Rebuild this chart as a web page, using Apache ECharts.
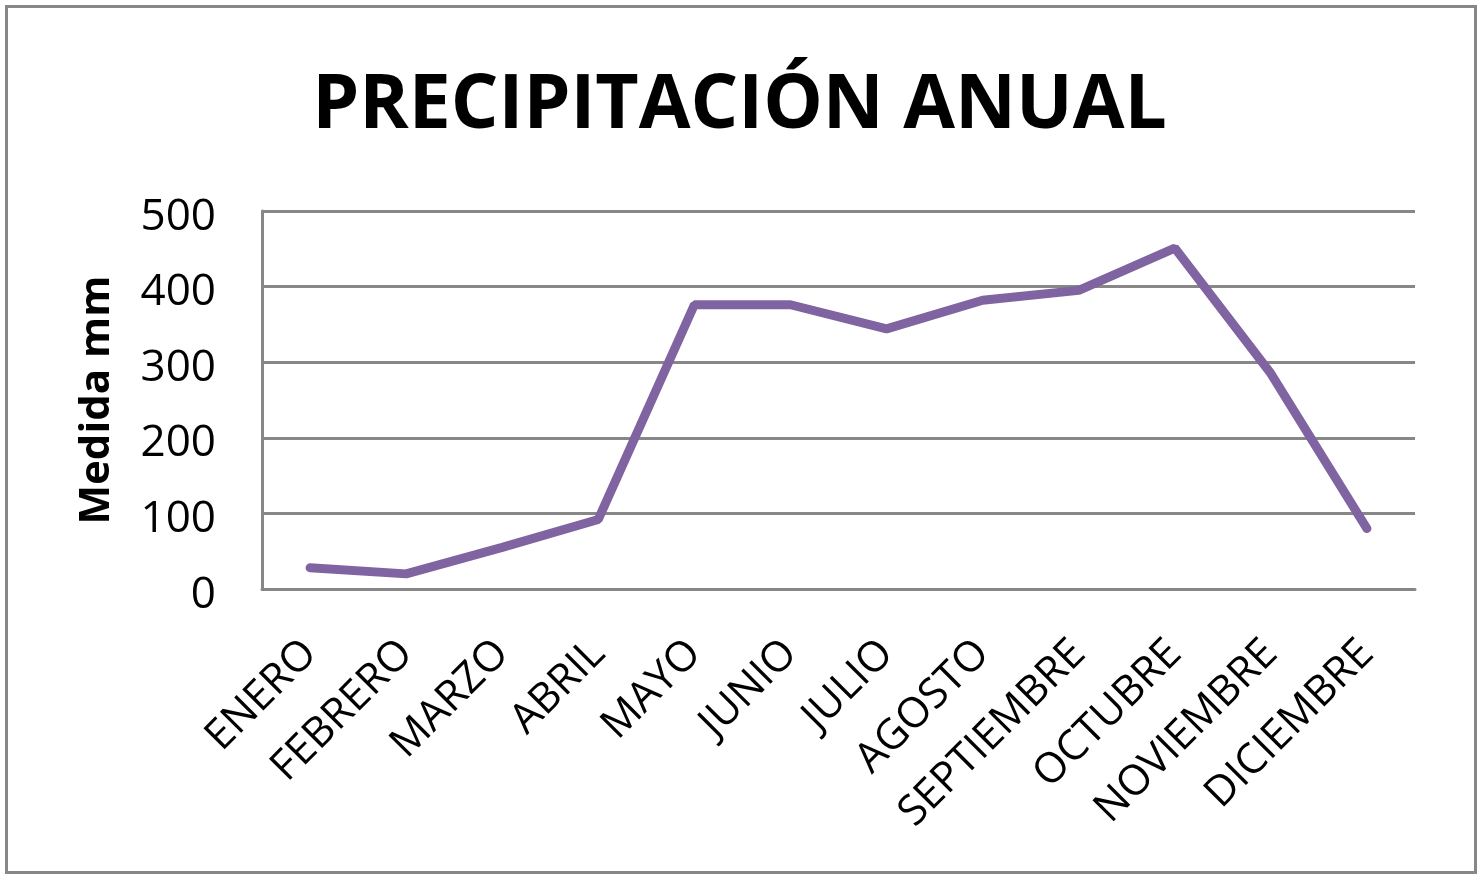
<!DOCTYPE html>
<html>
<head>
<meta charset="utf-8">
<script src="https://cdn.jsdelivr.net/npm/echarts@6/dist/echarts.min.js"></script>
<style>
  html, body { margin: 0; padding: 0; background: #fff; }
  #chart { width: 1479px; height: 874px; }
</style>
</head>
<body>
<div id="chart"></div>
<script>
// Monthly rainfall (mm)
const months = ['ENERO', 'FEBRERO', 'MARZO', 'ABRIL', 'MAYO', 'JUNIO', 'JULIO',
  'AGOSTO', 'SEPTIEMBRE', 'OCTUBRE', 'NOVIEMBRE', 'DICIEMBRE'];
const rainfall = [28, 20, 55, 92, 376, 376, 344, 382, 395, 451, 285, 80];
const yTicks = [0, 100, 200, 300, 400, 500];

const titleText = 'PRECIPITACIÓN ANUAL';
const yName = 'Medida mm';

const font = '"Open Sans", "Noto Sans", sans-serif';
const gridGray = '#878787';

const chart = echarts.init(document.getElementById('chart'), null, { renderer: 'canvas' });
chart.setOption({
  backgroundColor: '#ffffff',
  animation: false,
  graphic: [{
    type: 'rect',
    left: 4, top: 4,
    shape: { width: 1469, height: 866 },
    style: { fill: 'none', stroke: gridGray, lineWidth: 3 },
    silent: true
  }],
  title: {
    text: titleText,
    left: 'center',
    top: 64,
    textStyle: { fontFamily: font, fontWeight: 'bold', fontSize: 75, color: '#000' }
  },
  grid: { left: 262, right: 64, top: 211, bottom: 285, containLabel: false },
  xAxis: {
    type: 'category',
    data: months,
    boundaryGap: true,
    axisLine: { show: true, lineStyle: { color: gridGray, width: 3 } },
    axisTick: { show: false },
    axisLabel: {
      rotate: 45,
      margin: 58,
      interval: 0,
      fontFamily: font,
      fontSize: 42,
      color: '#000'
    }
  },
  yAxis: {
    type: 'value',
    min: yTicks[0],
    max: yTicks[yTicks.length - 1],
    interval: 100,
    name: yName,
    nameLocation: 'middle',
    nameRotate: 90,
    nameGap: 144,
    nameTextStyle: { fontFamily: font, fontWeight: 'bold', fontSize: 42, color: '#000' },
    axisLine: { show: true, lineStyle: { color: gridGray, width: 3 } },
    axisTick: { show: false },
    splitLine: { show: true, lineStyle: { color: gridGray, width: 3 } },
    axisLabel: {
      margin: 46,
      color: '#000',
      formatter: v => (yTicks.includes(v) ? '{n|' + v + '}' : ''),
      rich: {
        n: { fontFamily: font, fontSize: 44, color: '#000', padding: [12, 0, 0, 0] }
      }
    }
  },
  series: [{
    type: 'line',
    data: rainfall,
    showSymbol: false,
    symbol: 'none',
    lineStyle: { color: '#8064A2', width: 9, cap: 'round', join: 'bevel' }
  }]
});
</script>
</body>
</html>
